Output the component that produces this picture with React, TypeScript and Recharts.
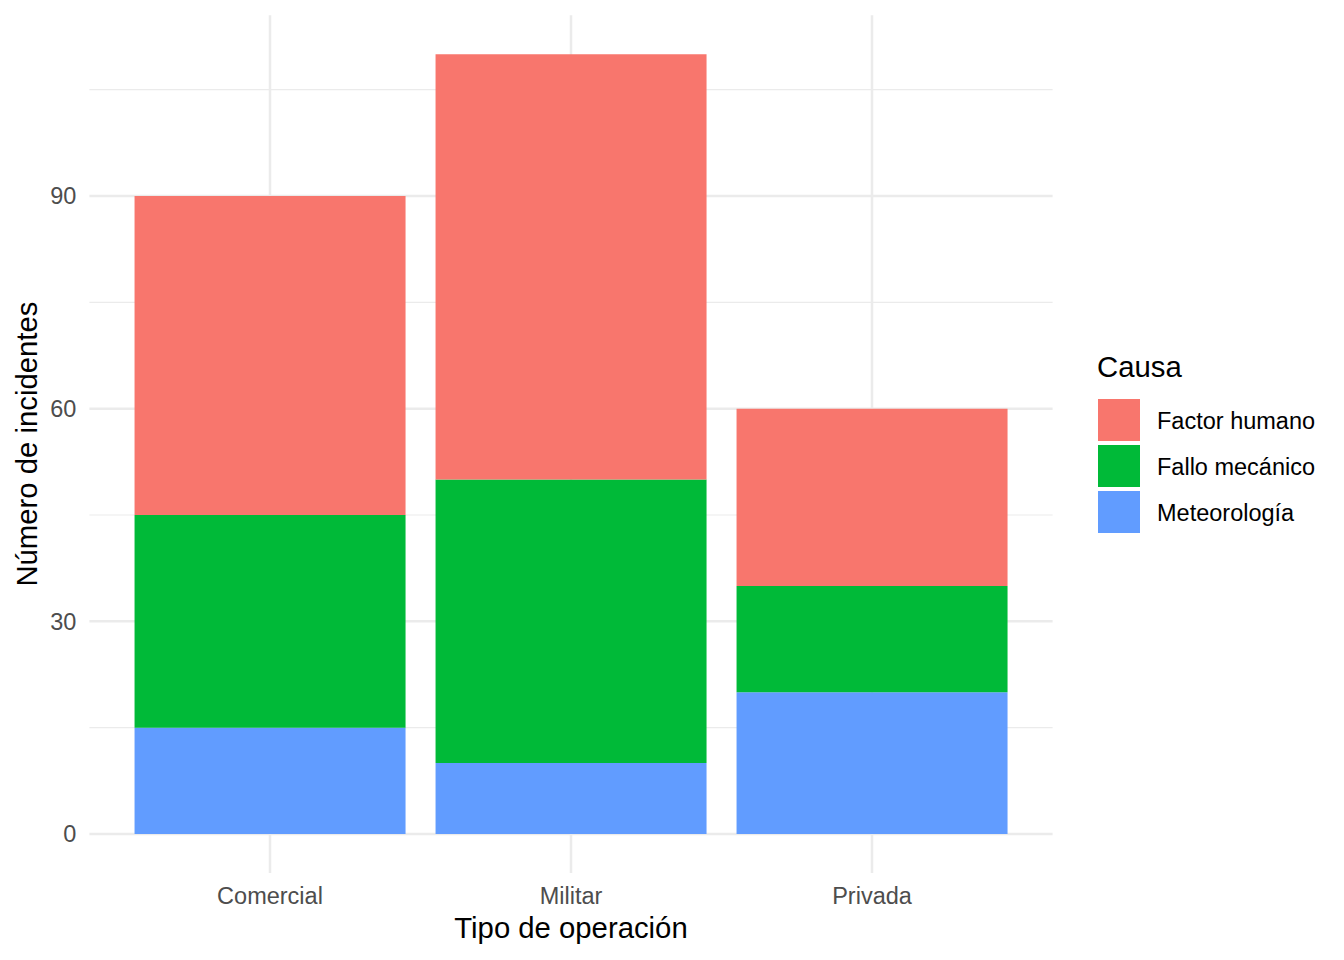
import React from 'react';
import { BarChart, Bar, XAxis, YAxis, CartesianGrid, Legend } from 'recharts';

const categories = ['Comercial', 'Militar', 'Privada'];
const meteorologia = [15, 10, 20];
const falloMecanico = [30, 40, 15];
const factorHumano = [45, 60, 25];
const yTicks = [0, 30, 60, 90];
const yMinorTicks = [15, 45, 75, 105];
const legendNames = ['Factor humano', 'Fallo mecánico', 'Meteorología'];
const legendColors = ['#F8766D', '#00BA38', '#619CFF'];

const data = categories.map((c, i) => ({
  operacion: c,
  meteo: meteorologia[i],
  fallo: falloMecanico[i],
  factor: factorHumano[i],
}));

const FONT = '"Liberation Sans", Arial, Helvetica, sans-serif';
const GRID = '#EBEBEB';

const XTitle = (props: any) => {
  const vb = props.viewBox || {};
  return (
    <text x={vb.x + vb.width / 2} y={vb.y + 65} textAnchor="middle" fontSize={29.3} fill="#000" fontFamily={FONT}>
      Tipo de operación
    </text>
  );
};

const YTitle = (props: any) => {
  const vb = props.viewBox || {};
  const cx = vb.x + 37;
  const cy = vb.y + vb.height / 2;
  return (
    <text x={cx} y={cy} transform={`rotate(-90, ${cx}, ${cy})`} textAnchor="middle" fontSize={29.3} fill="#000" fontFamily={FONT}>
      Número de incidentes
    </text>
  );
};

const LegendContent = () => (
  <svg width={247} height={200} style={{ display: 'block' }}>
    <text x={0} y={37} fontSize={29.3} fill="#000" fontFamily={FONT}>Causa</text>
    {legendNames.map((n, i) => (
      <g key={n}>
        <rect x={1} y={59 + i * 46} width={42} height={42} fill={legendColors[i]} />
        <text x={60} y={59 + i * 46 + 21 + 8.5} fontSize={23.5} fill="#000" fontFamily={FONT}>{n}</text>
      </g>
    ))}
  </svg>
);

export default function App() {
  return (
    <div style={{ position: 'absolute', left: 0, top: 0, width: 1344, height: 960, background: '#fff' }}>
      <BarChart
        width={1344}
        height={960}
        data={data}
        margin={{ top: 15.2, right: 291.4, left: 0, bottom: 0 }}
        barCategoryGap="5%"
        style={{ fontFamily: FONT }}
      >
        <CartesianGrid horizontalValues={yMinorTicks} vertical={false} syncWithTicks stroke={GRID} strokeWidth={1.2} />
        <CartesianGrid syncWithTicks stroke={GRID} strokeWidth={2.5} />
        <XAxis
          dataKey="operacion"
          type="category"
          height={87}
          padding={{ left: 30.1, right: 30.1 }}
          axisLine={false}
          tickLine={false}
          tickSize={0}
          tickMargin={14}
          tick={{ fill: '#4D4D4D', fontSize: 23.5, fontFamily: FONT }}
          label={<XTitle />}
        />
        <YAxis
          type="number"
          domain={[-5.5, 115.5]}
          ticks={yTicks}
          allowDataOverflow
          width={89.4}
          axisLine={false}
          tickLine={false}
          tickSize={0}
          tickMargin={13}
          tick={{ fill: '#4D4D4D', fontSize: 23.5, fontFamily: FONT }}
          label={<YTitle />}
        />
        <Legend
          layout="vertical"
          align="center"
          verticalAlign="middle"
          content={<LegendContent />}
          wrapperStyle={{ position: 'absolute', left: 1097, top: 340, width: 247, height: 200 }}
        />
        <Bar dataKey="meteo" stackId="a" fill="#619CFF" isAnimationActive={false} name="Meteorología" />
        <Bar dataKey="fallo" stackId="a" fill="#00BA38" isAnimationActive={false} name="Fallo mecánico" />
        <Bar dataKey="factor" stackId="a" fill="#F8766D" isAnimationActive={false} name="Factor humano" />
      </BarChart>
    </div>
  );
}
